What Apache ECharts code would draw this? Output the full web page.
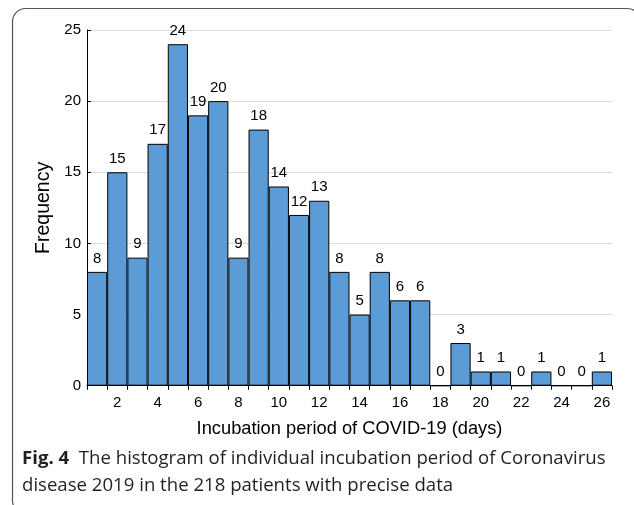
<!DOCTYPE html>
<html>
<head>
<meta charset="utf-8">
<script src="https://cdn.jsdelivr.net/npm/echarts@6/dist/echarts.min.js"></script>
<style>
html,body{margin:0;padding:0;background:#fff;}
#c{width:634px;height:505px;}
</style>
</head>
<body>
<div id="c"></div>
<script>
var days = ['1','2','3','4','5','6','7','8','9','10','11','12','13','14','15','16','17','18','19','20','21','22','23','24','25','26'];
var frequency = [8,15,9,17,24,19,20,9,18,14,12,13,8,5,8,6,6,0,3,1,1,0,1,0,0,1];
var yTicks = [0,5,10,15,20,25];
var xTitle = 'Incubation period of COVID-19 (days)';
var yTitle = 'Frequency';
var captionBold = 'Fig. 4';
var captionLine1 = 'The histogram of individual incubation period of Coronavirus';
var captionLine2 = 'disease 2019 in the 218 patients with precise data';

var chart = echarts.init(document.getElementById('c'), null, {renderer:'canvas'});
var font = 'Liberation Sans, Arial, sans-serif';
chart.setOption({
  animation:false,
  grid:{left:87, right:22, top:30, bottom:119.3, containLabel:false},
  xAxis:{
    type:'category',
    data:days,
    boundaryGap:true,
    name:xTitle,
    nameLocation:'middle',
    nameGap:34,
    nameTextStyle:{fontFamily:font, fontSize:18.3, color:'#000'},
    axisLine:{lineStyle:{color:'#000', width:1}},
    axisTick:{show:true, interval:0, length:4, lineStyle:{color:'#000'}},
    axisLabel:{interval:function(i){return i%2===1;}, fontFamily:font, fontSize:15, color:'#000', margin:10},
    splitLine:{show:false}
  },
  yAxis:{
    type:'value',
    min:yTicks[0], max:yTicks[yTicks.length-1], interval:5,
    name:yTitle,
    nameLocation:'middle',
    nameGap:31,
    nameTextStyle:{fontFamily:font, fontSize:19.5, color:'#000'},
    axisLine:{show:true, lineStyle:{color:'#000', width:1}},
    axisTick:{show:true, inside:true, length:4, lineStyle:{color:'#000'}},
    axisLabel:{fontFamily:font, fontSize:15, color:'#000', margin:6},
    splitLine:{show:true, lineStyle:{color:'#dcdcdc', width:1}}
  },
  series:[{
    type:'bar',
    data:frequency,
    barCategoryGap:'0%',
    itemStyle:{color:'#5b9bd6', borderColor:'#000', borderWidth:1},
    label:{show:true, position:'top', distance:6, fontFamily:font, fontSize:15, color:'#000'}
  }],
  graphic:[
    {type:'rect', shape:{x:12.5, y:8.5, width:628, height:505, r:13}, style:{fill:'none', stroke:'#555', lineWidth:1.2}, z:-1},
    {type:'text', left:22, top:449, style:{
      text:'{b|'+captionBold+'}  '+captionLine1,
      rich:{b:{fontWeight:'bold', fontFamily:'Open Sans', fontSize:18.6, fill:'#231f20'}},
      fontFamily:'Open Sans', fontSize:18.6, fill:'#231f20'
    }},
    {type:'text', left:22, top:476, style:{text:captionLine2, fontFamily:'Open Sans', fontSize:18.6, fill:'#231f20'}}
  ]
});
</script>
</body>
</html>
